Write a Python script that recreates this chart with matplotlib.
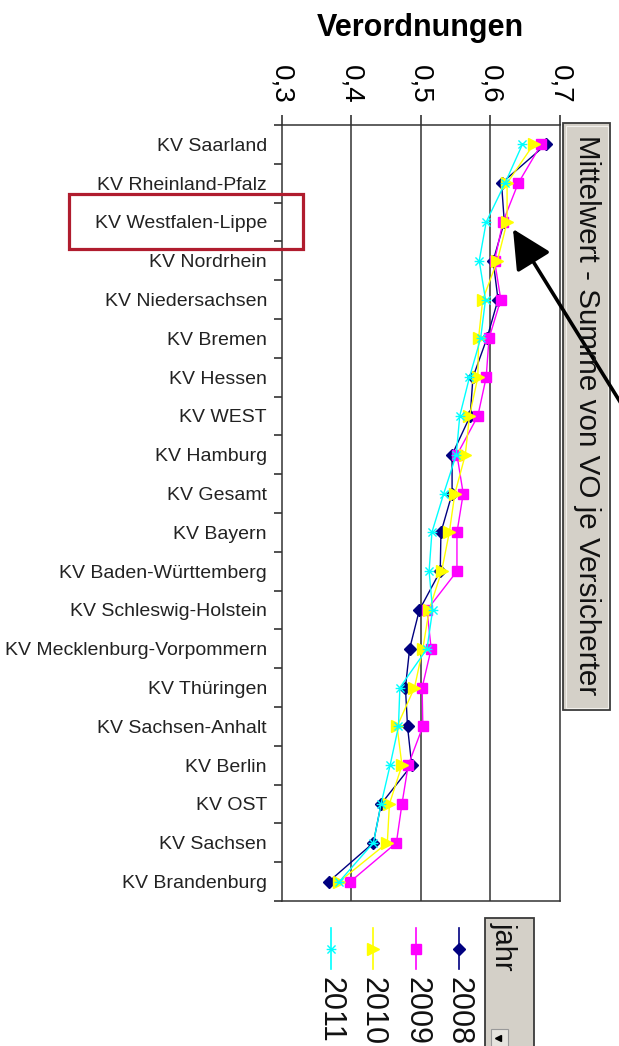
import matplotlib
matplotlib.use("Agg")
import matplotlib.pyplot as plt
import numpy as np
from matplotlib.path import Path
from matplotlib.patches import Rectangle, FancyArrowPatch
from matplotlib.lines import Line2D

plt.rcParams['font.family'] = ['Liberation Sans', 'DejaVu Sans']

categories = ["KV Saarland", "KV Rheinland-Pfalz", "KV Westfalen-Lippe", "KV Nordrhein",
              "KV Niedersachsen", "KV Bremen", "KV Hessen", "KV WEST", "KV Hamburg",
              "KV Gesamt", "KV Bayern", "KV Baden-Württemberg", "KV Schleswig-Holstein",
              "KV Mecklenburg-Vorpommern", "KV Thüringen", "KV Sachsen-Anhalt", "KV Berlin",
              "KV OST", "KV Sachsen", "KV Brandenburg"]

v2008 = [0.680, 0.616, 0.620, 0.604, 0.611, 0.595, 0.575, 0.571, 0.545, 0.545,
         0.529, 0.528, 0.498, 0.484, 0.478, 0.481, 0.487, 0.443, 0.432, 0.368]
v2009 = [0.673, 0.640, 0.618, 0.606, 0.615, 0.598, 0.594, 0.582, 0.552, 0.561,
         0.552, 0.552, 0.509, 0.515, 0.502, 0.503, 0.482, 0.473, 0.465, 0.399]
v2010 = [0.662, 0.624, 0.624, 0.610, 0.589, 0.583, 0.582, 0.570, 0.564, 0.549,
         0.541, 0.530, 0.512, 0.503, 0.491, 0.466, 0.473, 0.455, 0.452, 0.383]
v2011 = [0.646, 0.621, 0.594, 0.584, 0.593, 0.586, 0.570, 0.556, 0.551, 0.533,
         0.516, 0.512, 0.517, 0.509, 0.470, 0.468, 0.456, 0.443, 0.432, 0.383]

years = ["2008", "2009", "2010", "2011"]
series = [v2008, v2009, v2010, v2011]
x_ticks = [0.3, 0.4, 0.5, 0.6, 0.7]
x_tick_labels = ["0,3", "0,4", "0,5", "0,6", "0,7"]

star = Path([(-1, -1), (1, 1), (-1, 1), (1, -1), (-1.2, 0), (1.2, 0)],
            [Path.MOVETO, Path.LINETO, Path.MOVETO, Path.LINETO, Path.MOVETO, Path.LINETO])
colors = ["#000080", "#ff00ff", "#ffff00", "#00ffff"]
markers = ["D", "s", ">", star]
msizes = [6.5, 7.5, 9, 7]

W, H = 619, 1046
fig = plt.figure(figsize=(W / 100, H / 100), dpi=100)

def fx(x):
    return x / W

def fy(y):
    return 1 - y / H

L, R, T, B = 281.5, 560, 125, 901
ax = fig.add_axes([fx(L), fy(B), fx(R) - fx(L), fy(T) - fy(B)])

ypos = np.arange(len(categories))
for vals, c, m, ms in zip(series, colors, markers, msizes):
    ax.plot(vals, ypos, color=c, lw=1.0, marker=m, markersize=ms,
            markerfacecolor=c, markeredgecolor=c, markeredgewidth=1.0, zorder=3)

ax.set_xlim(0.3, 0.7)
ax.set_ylim(len(categories) - 0.5, -0.5)
ax.xaxis.tick_top()
ax.set_xticks(x_ticks)
ax.set_xticklabels(x_tick_labels)
ax.tick_params(axis='x', direction='out', length=7, width=1.1, color='#222222',
               labelsize=20, labelrotation=-90, pad=8.5)
ax.set_yticks(ypos)
ax.set_yticklabels(categories)
ax.tick_params(axis='y', which='major', length=0, pad=10.5, labelsize=14, labelcolor='#222222')
ax.set_yticks(np.arange(-0.5, len(categories), 1), minor=True)
ax.tick_params(axis='y', which='minor', direction='out', length=5.5, width=1.1, color='#222222')
for v in x_ticks[1:-1]:
    ax.axvline(v, color='#333333', lw=1.1, zorder=1)
for s in ax.spines.values():
    s.set_color('#333333')
    s.set_linewidth(1.1)

fig.text(fx(420.5), fy(28), "Verordnungen", ha='center', va='center',
         fontsize=22, fontweight='bold')

# overlay for decorations
ov = fig.add_axes([0, 0, 1, 1], zorder=5)
ov.set_xlim(0, W)
ov.set_ylim(H, 0)
ov.axis('off')
ov.patch.set_alpha(0)

# right grey field box
ov.add_patch(Rectangle((563, 123), 47, 587, facecolor='#d4d0c8', edgecolor='#3a3a3a', lw=1.3))
ov.add_patch(Rectangle((565.5, 125.5), 42, 582, facecolor='none', edgecolor='#f2f0ec', lw=0.8))
ov.text(587, 415, "Mittelwert - Summe von VO je Versicherter", rotation=-90,
        ha='center', va='center', fontsize=21.3, color='#111111')

# legend field box
ov.add_patch(Rectangle((485, 918), 49, 140, facecolor='#d4d0c8', edgecolor='#3a3a3a', lw=1.3))
ov.text(503.5, 922, "jahr", rotation=-90, ha='center', va='top', fontsize=21, color='#111111')
ov.add_patch(Rectangle((491, 1029), 17, 25, facecolor='#e6e4de', edgecolor='#999999', lw=0.8))
ov.plot([498], [1038], marker='<', color='black', markersize=4)

# legend entries
leg_x = [459, 416, 373, 331]
for xx, yr, c, m, ms in zip(leg_x, years, colors, markers, msizes):
    ov.add_line(Line2D([xx, xx], [928, 969], color=c, lw=1.2))
    ov.plot([xx], [949], marker=m, markersize=ms, color=c, markerfacecolor=c,
            markeredgecolor=c, markeredgewidth=1.0)
    ov.text(xx, 977, yr, rotation=-90, ha='center', va='top', fontsize=22, color='#111111')

# red highlight rectangle
ov.add_patch(Rectangle((69, 194), 234, 55, facecolor='none', edgecolor='#b01c2e', lw=2.3))

# arrow
arr = FancyArrowPatch((640, 434), (513, 229), arrowstyle='-|>,head_length=1.1,head_width=0.55',
                      mutation_scale=22, color='black', lw=2.6, shrinkA=0, shrinkB=0)
ov.add_patch(arr)

fig.savefig("out.png", dpi=100)
